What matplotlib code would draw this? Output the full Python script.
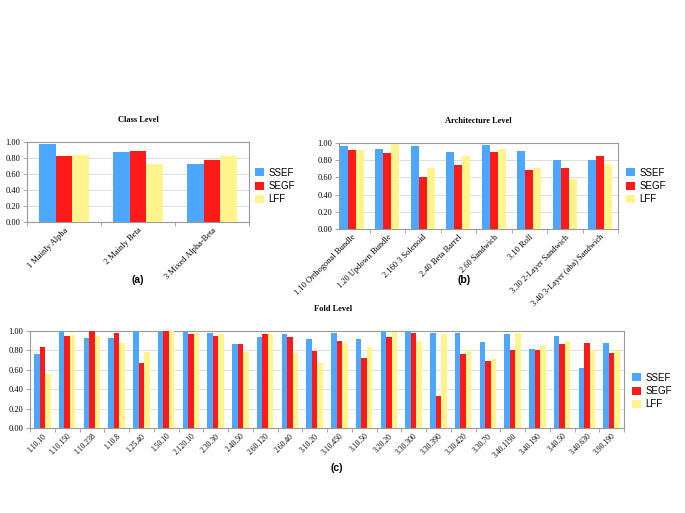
import matplotlib
matplotlib.use("Agg")
import matplotlib.pyplot as plt
import numpy as np
from matplotlib.ticker import FixedLocator

series = ["SSEF", "SEGF", "LFF"]
colors = ["#4da6ff", "#ff1a1a", "#fff58c"]

class_labels = ["1 Mainly Alpha", "2 Mainly Beta", "3 Mixed Alpha-Beta"]
class_ssef = [0.98, 0.87, 0.73]
class_segf = [0.83, 0.89, 0.78]
class_lff = [0.84, 0.72, 0.82]

arch_labels = ["1.10 Orthogonal Bundle", "1.20 Updown Bundle", "2.160 3 Solenoid",
               "2.40 Beta Barrel", "2.60 Sandwich", "3.10 Roll",
               "3.30 2-Layer Sandwich", "3.40 3-Layer (aba) Sandwich"]
arch_ssef = [0.965, 0.927, 0.965, 0.896, 0.977, 0.904, 0.80, 0.80]
arch_segf = [0.92, 0.885, 0.61, 0.75, 0.896, 0.69, 0.71, 0.846]
arch_lff = [0.915, 0.99, 0.71, 0.85, 0.935, 0.715, 0.585, 0.76]

fold_labels = ["1.10.10", "1.10.150", "1.10.238", "1.10.8", "1.25.40", "1.50.10",
               "2.120.10", "2.30.30", "2.40.50", "2.60.120", "2.60.40", "3.10.20",
               "3.10.450", "3.10.50", "3.20.20", "3.30.300", "3.30.390", "3.30.420",
               "3.30.70", "3.40.1190", "3.40.190", "3.40.50", "3.40.630", "3.90.190"]
fold_ssef = [0.76, 1.00, 0.93, 0.93, 1.00, 1.00, 0.99, 0.98, 0.87, 0.94, 0.97, 0.92,
             0.98, 0.92, 1.00, 1.00, 0.976, 0.976, 0.89, 0.97, 0.815, 0.945, 0.616, 0.873]
fold_segf = [0.83, 0.95, 1.00, 0.98, 0.67, 1.00, 0.97, 0.95, 0.87, 0.97, 0.94, 0.79,
             0.90, 0.72, 0.94, 0.976, 0.335, 0.76, 0.695, 0.80, 0.80, 0.866, 0.877, 0.774]
fold_lff = [0.555, 0.96, 0.95, 0.88, 0.78, 1.00, 0.98, 0.965, 0.78, 0.97, 0.77, 0.675,
            0.88, 0.84, 0.99, 0.90, 0.965, 0.80, 0.715, 0.976, 0.85, 0.894, 0.80, 0.80]

W, H = 685, 513
fig = plt.figure(figsize=(W / 100, H / 100), dpi=100)

serif = ["Liberation Serif", "DejaVu Serif"]
sans = ["Liberation Sans", "DejaVu Sans"]

def rect(l, t, r, b):
    return [l / W, 1 - b / H, (r - l) / W, (b - t) / H]

def panel(pos, labels, data, title, title_xy, sub, sub_xy, leg_xy, xlim, tick_fs):
    ax = fig.add_axes(rect(*pos))
    n = len(labels)
    x = np.arange(n)
    bw = 0.225
    for i, (vals, c, name) in enumerate(zip(data, colors, series)):
        ax.bar(x + (i - 1) * bw, vals, width=bw, color=c, label=name, zorder=3,
               linewidth=0)
    ax.set_ylim(0, 1.0)
    ax.set_xlim(*xlim)
    ax.set_yticks(np.arange(0, 1.01, 0.2))
    ax.set_yticklabels([f"{v:.2f}" for v in np.arange(0, 1.01, 0.2)],
                       fontfamily=serif, fontsize=6)
    ax.set_xticks(x)
    ax.set_xticklabels(labels, rotation=45, ha="right", rotation_mode="anchor",
                       fontfamily=serif, fontsize=tick_fs)
    ax.tick_params(axis="x", length=0, pad=3)
    ax.tick_params(axis="y", length=3, width=0.6, color="#999999", pad=2)
    ax.xaxis.set_minor_locator(FixedLocator(np.arange(n + 1) - 0.5))
    ax.tick_params(axis="x", which="minor", length=3, width=0.6, color="#999999")
    ax.yaxis.grid(True, color="#dddddd", linewidth=0.7, zorder=0)
    for s in ax.spines.values():
        s.set_color("#999999")
        s.set_linewidth(0.8)
    fig.text(title_xy[0] / W, 1 - title_xy[1] / H, title, ha="center", va="center",
             fontfamily=serif, fontweight="bold", fontsize=6)
    fig.text(sub_xy[0] / W, 1 - sub_xy[1] / H, sub, ha="center", va="center",
             fontfamily=sans, fontweight="bold", fontsize=7.5)
    ax.legend(loc="center left", bbox_to_anchor=(leg_xy[0] / W, 1 - leg_xy[1] / H),
              bbox_transform=fig.transFigure, frameon=False,
              prop={"family": sans, "size": 7}, handlelength=0.9, handleheight=0.9,
              handletextpad=0.5, labelspacing=0.35, borderaxespad=0, borderpad=0)
    return ax

panel((27, 142, 249, 222), class_labels, [class_ssef, class_segf, class_lff],
      "Class Level", (138, 120), "(a)", (138, 280), (255, 186), (-0.5, 2.5), 6)
panel((339, 143, 618, 229), arch_labels, [arch_ssef, arch_segf, arch_lff],
      "Architecture Level", (478, 121), "(b)", (464, 280), (626, 186), (-0.36, 7.5), 6)
panel((30, 331, 624, 428), fold_labels, [fold_ssef, fold_segf, fold_lff],
      "Fold Level", (333, 309), "(c)", (337, 468), (632, 391), (-0.5, 23.5), 5.5)

fig.savefig("out.png", dpi=100)
